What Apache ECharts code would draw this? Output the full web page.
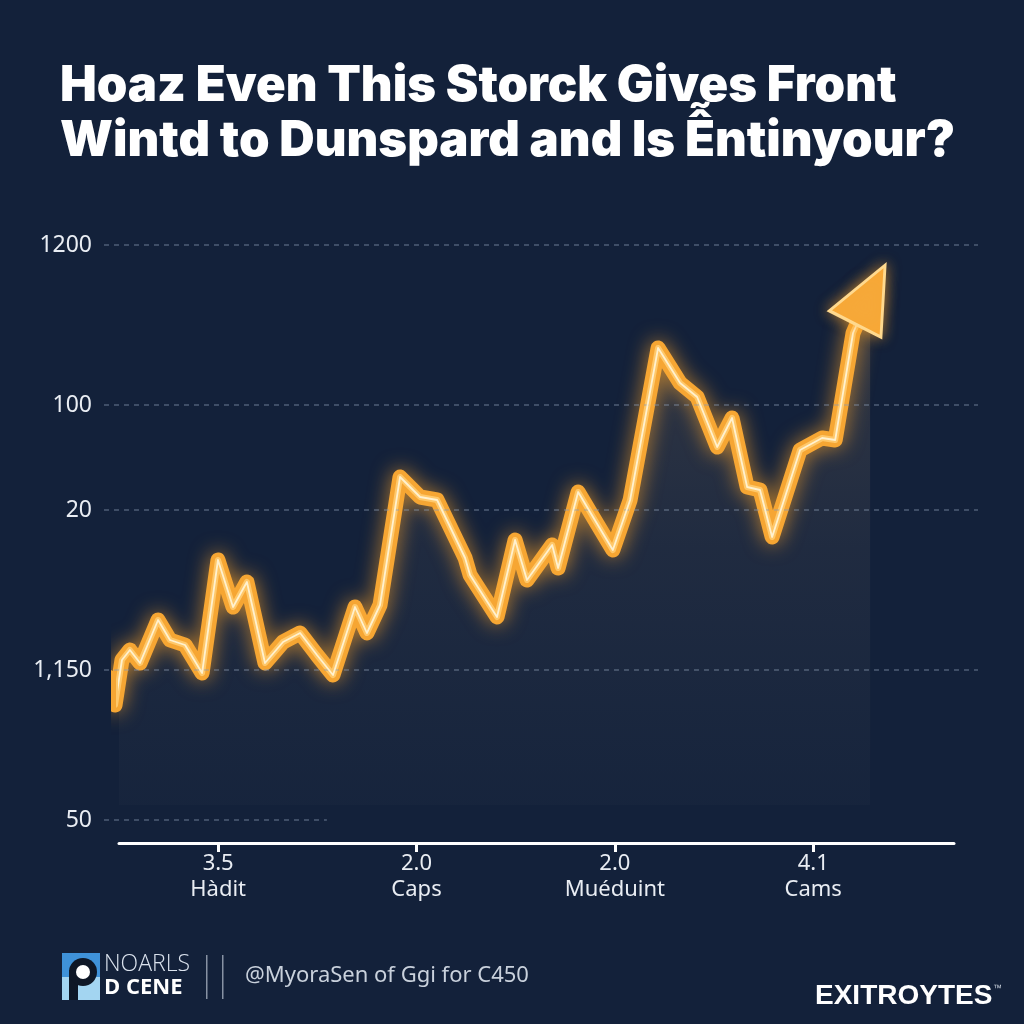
<!DOCTYPE html>
<html>
<head>
<meta charset="utf-8">
<script src="https://cdn.jsdelivr.net/npm/echarts@6/dist/echarts.min.js"></script>
<style>
html,body{margin:0;padding:0;background:#13213a;}
#chart{width:1024px;height:1024px;}
</style>
</head>
<body>
<div id="chart"></div>
<script>
// ---- data ----
const titleText = 'Hoaz Even This Storck Gives Front\nWintd to Dunspard and Is Ễntinyour?';
const yTickValues = [0, 30, 62, 83, 115];
const yTickLabels = ['50', '1,150', '20', '100', '1200'];
const xTickValues = [5, 15, 25, 35];
const xTickTop = ['3.5', '2.0', '2.0', '4.1'];
const xTickNames = ['Hàdit', 'Caps', 'Muéduint', 'Cams'];
const priceX = [-0.55, -0.2, 0.15, 0.55, 1.06, 1.97, 2.57, 3.33, 4.19, 4.99, 5.75, 6.45, 7.36, 8.27, 9.13, 9.98, 10.79, 11.9, 12.5, 13.16, 14.17, 15.18, 16.04, 17.45, 17.7, 19.06, 19.97, 20.57, 21.84, 22.14, 23.15, 23.9, 24.9, 25.77, 27.18, 28.29, 29.15, 30.16, 30.91, 31.67, 32.32, 32.93, 34.34, 35.45, 36.11, 37.01, 37.87];
const priceY = [28.6, 23, 32, 34, 31.4, 40, 36, 35, 29.4, 52, 42.6, 47.6, 31.4, 35.6, 37.4, 33, 29, 42.6, 37.4, 43, 68.6, 64.6, 64, 52.4, 49, 40.6, 56, 48, 55, 50.4, 65.6, 60.6, 54, 64, 94.4, 87.4, 84.6, 74.6, 80.4, 66.6, 66, 56.6, 74, 76.4, 76, 97.4, 105.1];
const footerHandle = '@MyoraSen of Ggi for C450';
const brandName = 'EXITROYTES';

const lineData = priceX.map((x, i) => [x, priceY[i]]);
const lastPoint = lineData[lineData.length - 1];

const chart = echarts.init(document.getElementById('chart'));
const gridLineEnds = [0.255, 1, 1, 1, 1];

const option = {
  backgroundColor: '#13213a',
  animation: false,
  title: {
    text: titleText,
    left: 55,
    top: 54,
    textStyle: {
      color: '#ffffff',
      fontFamily: 'Inter, "Open Sans", sans-serif',
      fontWeight: 900,
      fontSize: 49,
      lineHeight: 55
    }
  },
  grid: [
    { left: 104, right: 46, top: 245, bottom: 204 },
    { left: 119, right: 70, top: 245, bottom: 204 }
  ],
  xAxis: [
    { gridIndex: 0, type: 'value', min: 0, max: 1, show: false },
    {
      gridIndex: 1, type: 'value', min: 0, max: 42.1, offset: 23,
      axisLine: { show: true, onZero: false, lineStyle: { color: '#ffffff', width: 3 } },
      axisTick: { show: true, customValues: xTickValues, length: 9, lineStyle: { color: '#ffffff', width: 3 } },
      axisLabel: {
        customValues: xTickValues,
        margin: 8,
        color: '#e9edf3',
        fontFamily: '"Noto Sans", "Open Sans", sans-serif',
        fontSize: 22,
        lineHeight: 26,
        formatter: v => {
          const i = xTickValues.indexOf(v);
          return i >= 0 ? xTickTop[i] + '\n' + xTickNames[i] : '';
        }
      },
      splitLine: { show: false }
    }
  ],
  yAxis: [
    {
      gridIndex: 0, type: 'value', min: 0, max: 115,
      axisLine: { show: false }, axisTick: { show: false },
      splitLine: { show: false },
      axisLabel: {
        customValues: yTickValues,
        margin: 12,
        color: '#e9edf3',
        fontFamily: '"Noto Sans", "Open Sans", sans-serif',
        fontSize: 23,
        formatter: v => {
          const i = yTickValues.indexOf(v);
          return i >= 0 ? yTickLabels[i] : '';
        }
      }
    },
    { gridIndex: 1, type: 'value', min: 0, max: 115, show: false }
  ],
  series: [
    {
      name: 'grid', type: 'line', xAxisIndex: 0, yAxisIndex: 0, data: [],
      silent: true,
      markLine: {
        silent: true, symbol: ['none', 'none'], label: { show: false },
        lineStyle: { type: [5, 5], color: 'rgba(140,155,178,0.5)', width: 1.5 },
        emphasis: { disabled: true },
        data: yTickValues.map((v, i) => [{ coord: [0, v] }, { coord: [gridLineEnds[i], v] }])
      }
    },
    {
      name: 'area', type: 'line', xAxisIndex: 1, yAxisIndex: 1, data: lineData,
      symbol: 'none', clip: false, silent: true,
      lineStyle: { width: 0 },
      areaStyle: {
        origin: 3,
        color: new echarts.graphic.LinearGradient(0, 0, 0, 1, [
          { offset: 0, color: 'rgba(215,170,110,0.26)' },
          { offset: 0.5, color: 'rgba(170,150,130,0.12)' },
          { offset: 1, color: 'rgba(150,150,150,0.04)' }
        ])
      }
    },
    {
      name: 'glow', type: 'line', xAxisIndex: 1, yAxisIndex: 1, data: lineData,
      symbol: 'none', clip: false, silent: true, z: 3,
      lineStyle: { width: 15, color: '#f6a633', cap: 'round', join: 'round', shadowBlur: 20, shadowColor: 'rgba(255,165,40,0.7)' }
    },
    {
      name: 'mid', type: 'line', xAxisIndex: 1, yAxisIndex: 1, data: lineData,
      symbol: 'none', clip: false, silent: true, z: 4,
      lineStyle: { width: 6, color: '#ffc86a', cap: 'round', join: 'round' }
    },
    {
      name: 'core', type: 'line', xAxisIndex: 1, yAxisIndex: 1, data: lineData,
      symbol: 'none', clip: false, silent: true, z: 5,
      lineStyle: { width: 1.8, color: '#fff1cf', cap: 'round', join: 'round' }
    },
    {
      name: 'arrow', type: 'scatter', xAxisIndex: 1, yAxisIndex: 1, data: [lastPoint],
      symbol: 'triangle', symbolSize: [58, 66], symbolRotate: -27, silent: true, clip: false,
      itemStyle: { color: '#f6a93a', opacity: 1, borderColor: '#ffd98e', borderWidth: 3, shadowBlur: 14, shadowColor: 'rgba(255,165,40,0.6)' },
      z: 10
    }
  ],
  graphic: [
    { type: 'rect', shape: { x: 62, y: 953, width: 38, height: 24 }, style: { fill: '#3f92d9' } },
    { type: 'rect', shape: { x: 62, y: 977, width: 38, height: 23 }, style: { fill: '#a3d5f1' } },
    { type: 'rect', shape: { x: 69, y: 970, width: 9, height: 30 }, style: { fill: '#0e1726' } },
    { type: 'circle', shape: { cx: 83, cy: 972, r: 14 }, style: { fill: '#0e1726' } },
    { type: 'circle', shape: { cx: 83, cy: 972, r: 7 }, style: { fill: '#ffffff' } },
    { type: 'text', left: 104, top: 953, style: { text: 'NOARLS', fill: '#dbe3ee', font: '300 23px "Open Sans", sans-serif' } },
    { type: 'text', left: 104, top: 977, style: { text: 'D CENE', fill: '#ffffff', font: 'bold 22px "Open Sans", sans-serif' } },
    { type: 'rect', shape: { x: 206, y: 955, width: 1.5, height: 44 }, style: { fill: '#8792a3' } },
    { type: 'rect', shape: { x: 222, y: 955, width: 1.5, height: 44 }, style: { fill: '#8792a3' } },
    { type: 'text', left: 245, top: 965, style: { text: footerHandle, fill: '#c9d1dc', font: '22px "Noto Sans", "Open Sans", sans-serif' } },
    { type: 'text', left: 815, top: 982, style: { text: brandName, fill: '#ffffff', font: 'bold 28px "Liberation Sans", Arial, sans-serif' } },
    { type: 'text', left: 993, top: 984, style: { text: '™', fill: '#c9d1dc', font: '9px sans-serif' } }
  ]
};
chart.setOption(option);
</script>
</body>
</html>
